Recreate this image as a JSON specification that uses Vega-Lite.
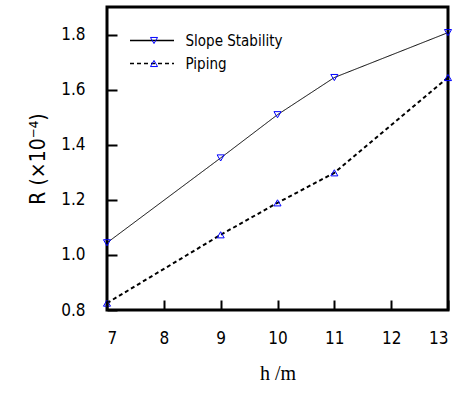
{
  "$schema": "https://vega.github.io/schema/vega-lite/v6.json",
  "width": 341,
  "height": 303,
  "autosize": {"type": "none"},
  "padding": {"left": 107, "top": 7, "right": 10, "bottom": 83},
  "background": "white",
  "config": {
    "view": {"stroke": "black", "strokeWidth": 3},
    "font": "DejaVu Sans Condensed",
    "axis": {
      "grid": false,
      "labelColor": "black",
      "labelFont": "DejaVu Sans Condensed",
      "labelFontSize": 17,
      "titleColor": "black"
    },
    "legend": {
      "labelFont": "DejaVu Sans Condensed",
      "labelFontSize": 15,
      "labelColor": "black",
      "rowPadding": 7
    }
  },
  "data": {
    "values": [
      {"h": 7, "R": 1.044, "series": "Slope Stability"},
      {"h": 9, "R": 1.352, "series": "Slope Stability"},
      {"h": 10, "R": 1.509, "series": "Slope Stability"},
      {"h": 11, "R": 1.644, "series": "Slope Stability"},
      {"h": 13, "R": 1.807, "series": "Slope Stability"},
      {"h": 7, "R": 0.825, "series": "Piping"},
      {"h": 9, "R": 1.073, "series": "Piping"},
      {"h": 10, "R": 1.189, "series": "Piping"},
      {"h": 11, "R": 1.298, "series": "Piping"},
      {"h": 13, "R": 1.644, "series": "Piping"}
    ]
  },
  "encoding": {
    "x": {
      "field": "h", "type": "quantitative",
      "scale": {"domain": [7, 13], "nice": false, "zero": false},
      "axis": {"values": [7, 8, 9, 10, 11, 12, 13], "labelPadding": 20, "title": "h /m",
        "domain": false, "ticks": true, "offset": -10, "tickSize": 10, "tickColor": "#000000", "tickWidth": 2, "zindex": 2,
        "titleFont": "Liberation Serif", "titleFontSize": 20, "titleFontWeight": "normal", "titlePadding": 17}
    },
    "y": {
      "field": "R", "type": "quantitative",
      "scale": {"domain": [0.8, 1.9], "nice": false, "zero": false},
      "axis": {"values": [0.8, 1.0, 1.2, 1.4, 1.6, 1.8], "format": ".1f", "labelPadding": 22,
        "domain": false, "ticks": true, "offset": -10, "tickSize": 10, "tickColor": "#000000", "tickWidth": 2, "zindex": 2,
        "title": "R (×10⁻⁴)", "titleFont": "DejaVu Sans Condensed", "titleFontSize": 21, "titleFontWeight": "normal", "titlePadding": 12}
    }
  },
  "layer": [
    {
      "mark": {"type": "line", "color": "black"},
      "encoding": {
        "strokeDash": {
          "field": "series", "type": "nominal",
          "sort": ["Slope Stability", "Piping"],
          "scale": {"range": [[1, 0], [4, 3]]},
          "legend": {
            "orient": "none", "legendX": 37.5, "legendY": 26, "title": null,
            "symbolType": "M-4,0H4", "symbolSize": 121, "symbolStrokeColor": "black", "symbolStrokeWidth": 1.5,
            "labelOffset": 26
          }
        },
        "strokeWidth": {
          "field": "series", "type": "nominal",
          "sort": ["Slope Stability", "Piping"],
          "scale": {"range": [1, 2]},
          "legend": null
        }
      }
    },
    {
      "mark": {"type": "point", "filled": false, "stroke": "#0000ff", "strokeWidth": 1, "size": 50, "opacity": 1},
      "encoding": {
        "shape": {
          "field": "series", "type": "nominal",
          "scale": {"domain": ["Slope Stability", "Piping"], "range": ["triangle-down", "triangle-up"]},
          "legend": {
            "orient": "none", "legendX": 39.5, "legendY": 26, "title": null,
            "symbolSize": 50, "symbolStrokeColor": "#0000ff", "symbolFillColor": "white", "symbolStrokeWidth": 1,
            "labelExpr": "''"
          }
        }
      }
    }
  ]
}
